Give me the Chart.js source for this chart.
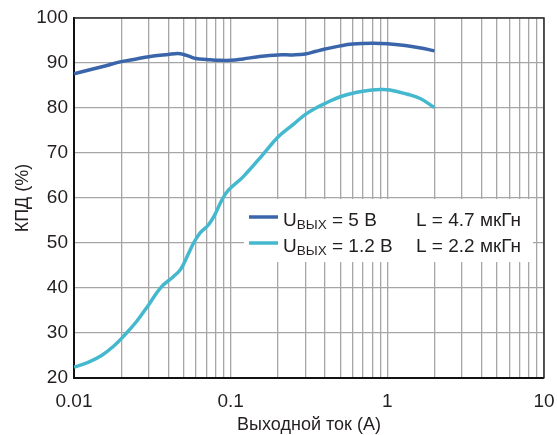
<!DOCTYPE html>
<html>
<head>
<meta charset="utf-8">
<script src="https://cdn.jsdelivr.net/npm/chart.js@4/dist/chart.umd.min.js"></script>
<style>
  html, body { margin: 0; padding: 0; background: #ffffff; }
  #wrap { width: 557px; height: 435px; position: relative; }
</style>
</head>
<body>
<div id="wrap"><canvas id="c" width="557" height="435"></canvas></div>
<script>
// ---- data ----
const xMajorTicks = [0.01, 0.1, 1, 10];
const xTickLabels = ['0.01', '0.1', '1', '10'];
const yTicks = [20, 30, 40, 50, 60, 70, 80, 90, 100];

const seriesLabels = ['UВЫХ = 5 В    L = 4.7 мкГн', 'UВЫХ = 1.2 В    L = 2.2 мкГн'];
const legendMain = ['U', 'U'];
const legendSub = ['ВЫХ', 'ВЫХ'];
const legendVoltage = ['= 5 В', '= 1.2 В'];
const legendInductance = ['L = 4.7 мкГн', 'L = 2.2 мкГн'];

const current5V = [0.01, 0.013, 0.016, 0.02, 0.025, 0.03, 0.04, 0.046, 0.05, 0.055, 0.06, 0.07, 0.085, 0.1, 0.12, 0.15, 0.2, 0.25, 0.3, 0.35, 0.4, 0.5, 0.6, 0.8, 1.0, 1.3, 1.6, 2.0];
const eff5V =     [87.6, 88.6, 89.4, 90.3, 90.9, 91.4, 91.9, 92.1, 91.9, 91.4, 91.0, 90.8, 90.6, 90.6, 90.9, 91.4, 91.8, 91.8, 92.0, 92.6, 93.1, 93.8, 94.2, 94.4, 94.3, 93.9, 93.4, 92.7];

const current1V2 = [0.01, 0.0125, 0.015, 0.0178, 0.0206, 0.025, 0.03, 0.036, 0.043, 0.048, 0.054, 0.058, 0.064, 0.072, 0.079, 0.088, 0.097, 0.12, 0.16, 0.2, 0.25, 0.3, 0.35, 0.4, 0.5, 0.64, 0.8, 0.9, 1.04, 1.33, 1.62, 2.0];
const eff1V2 =     [22.4, 23.6, 25.0, 27.0, 29.2, 32.5, 36.3, 40.2, 42.5, 44.2, 47.8, 50.0, 52.3, 54.0, 56.2, 59.6, 61.8, 64.7, 69.6, 73.5, 76.3, 78.6, 80.0, 81.0, 82.5, 83.5, 84.0, 84.1, 84.0, 83.1, 82.1, 80.1];

const colors = ['#3b65ab', '#44b8ce'];
const FONT = '"Liberation Sans", Arial, Helvetica, sans-serif';
const TEXT = '#231f20';
const GRID = '#a6a6a6';

// all log ticks 1..9 x decade
const xAllTicks = [];
for (let d = 0; d < xMajorTicks.length - 1; d++) {
  for (let k = 1; k <= 9; k++) xAllTicks.push(+(xMajorTicks[d] * k).toPrecision(6));
}
xAllTicks.push(xMajorTicks[xMajorTicks.length - 1]);

function toPoints(xs, ys) { return xs.map((x, i) => ({ x: x, y: ys[i] })); }

const frameAndLegend = {
  id: 'frameAndLegend',
  afterDatasetsDraw(chart) {
    const ctx = chart.ctx;
    const a = chart.chartArea;
    ctx.save();
    // frame (top / right)
    ctx.strokeStyle = '#2b2b2b';
    ctx.lineWidth = 1.5;
    ctx.beginPath();
    ctx.moveTo(a.left, a.top);
    ctx.lineTo(a.right, a.top);
    ctx.lineTo(a.right, a.bottom);
    ctx.stroke();

    // legend box
    const bx = 244, by = 199, bw = 289, bh = 63;
    ctx.fillStyle = '#ffffff';
    ctx.fillRect(bx, by, bw, bh);
    const rows = [226, 252];
    for (let i = 0; i < 2; i++) {
      const base = rows[i];
      ctx.strokeStyle = colors[i];
      ctx.lineWidth = 3.5;
      ctx.beginPath();
      ctx.moveTo(249, base - 9);
      ctx.lineTo(278, base - 9);
      ctx.stroke();
      ctx.fillStyle = TEXT;
      ctx.textBaseline = 'alphabetic';
      ctx.textAlign = 'left';
      ctx.font = '19px ' + FONT;
      let x = 283;
      ctx.fillText(legendMain[i], x, base);
      x += ctx.measureText(legendMain[i]).width;
      ctx.font = '13.5px ' + FONT;
      ctx.fillText(legendSub[i], x, base + 2.5);
      x += ctx.measureText(legendSub[i]).width;
      ctx.font = '19px ' + FONT;
      ctx.fillText(' ' + legendVoltage[i], x, base);
      ctx.fillText(legendInductance[i], 416, base);
    }
    ctx.restore();
  }
};

new Chart(document.getElementById('c'), {
  type: 'line',
  data: {
    datasets: [
      { label: seriesLabels[0], data: toPoints(current5V, eff5V), borderColor: colors[0], backgroundColor: colors[0], borderWidth: 3.5, pointRadius: 0, tension: 0.4, fill: false },
      { label: seriesLabels[1], data: toPoints(current1V2, eff1V2), borderColor: colors[1], backgroundColor: colors[1], borderWidth: 3.5, pointRadius: 0, tension: 0.4, fill: false }
    ]
  },
  options: {
    responsive: false,
    animation: false,
    events: [],
    layout: { padding: { left: 0, right: 13, top: 18, bottom: 0 } },
    plugins: { legend: { display: false }, tooltip: { enabled: false } },
    scales: {
      x: {
        type: 'logarithmic',
        min: 0.01, max: 10,
        afterBuildTicks(scale) { scale.ticks = xAllTicks.map(v => ({ value: v })); },
        afterFit(scale) { scale.height = 57; scale.paddingLeft = 0; scale.paddingRight = 0; },
        ticks: {
          autoSkip: false, maxRotation: 0, minRotation: 0, padding: 12,
          color: TEXT, font: { family: FONT, size: 19 },
          callback(value) {
            const idx = xMajorTicks.findIndex(m => Math.abs(Math.log10(m) - Math.log10(value)) < 1e-6);
            return idx >= 0 ? xTickLabels[idx] : '';
          }
        },
        grid: { color: GRID, lineWidth: 1.3, drawTicks: false },
        border: { display: true, color: '#111111', width: 2 },
        title: { display: true, text: 'Выходной ток (А)', color: TEXT, font: { family: FONT, size: 18 }, padding: { top: 0, bottom: -1 } }
      },
      y: {
        min: 20, max: 100,
        afterBuildTicks(scale) { scale.ticks = yTicks.map(v => ({ value: v })); },
        afterFit(scale) { scale.width = 74; scale.paddingTop = 0; scale.paddingBottom = 0; },
        ticks: { padding: 6, color: TEXT, font: { family: FONT, size: 19 } },
        grid: { color: GRID, lineWidth: 1.3, drawTicks: false },
        border: { display: true, color: '#111111', width: 2 },
        title: { display: true, text: 'КПД (%)', color: TEXT, font: { family: FONT, size: 18 }, padding: { top: 12, bottom: 0 } }
      }
    }
  },
  plugins: [frameAndLegend]
});
</script>
</body>
</html>
